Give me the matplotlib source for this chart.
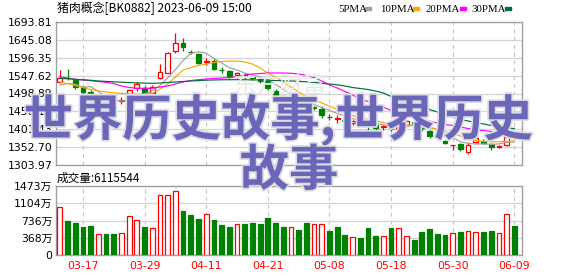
import matplotlib
matplotlib.use("Agg")
import matplotlib.pyplot as plt
import matplotlib.patheffects as pe

# ---- data ----
opens = [1530, 1542, 1536, 1517, 1504, 1473, 1475, 1480, 1479, 1486,
         1513, 1513, 1499, 1540, 1556, 1614, 1636, 1613, 1607, 1585,
         1587, 1564, 1559, 1548, 1552, 1543, 1542, 1533, 1506, 1490,
         1470, 1472, 1462, 1462, 1457, 1436, 1429, 1428, 1419, 1424,
         1420, 1414, 1408, 1408, 1402, 1412, 1420, 1410, 1396, 1386,
         1369, 1358, 1360, 1340, 1366, 1370, 1360, 1352, 1358, 1389]
closes = [1542, 1540, 1516, 1502, 1488, 1476, 1466, 1478, 1482, 1508,
          1524, 1499, 1516, 1558, 1610, 1636, 1625, 1611, 1583, 1588,
          1567, 1562, 1545, 1554, 1545, 1541, 1534, 1513, 1486, 1478,
          1476, 1469, 1460, 1460, 1439, 1434, 1431, 1424, 1423, 1420,
          1412, 1405, 1410, 1403, 1408, 1424, 1414, 1404, 1383, 1383,
          1365, 1359, 1348, 1358, 1378, 1364, 1352, 1355, 1379, 1384]
highs = [1563, 1566, 1538, 1519, 1508, 1478, 1479, 1484, 1488, 1510,
         1531, 1519, 1522, 1578, 1612, 1663, 1650, 1617, 1609, 1595,
         1593, 1571, 1563, 1557, 1555, 1547, 1547, 1538, 1511, 1495,
         1480, 1475, 1466, 1466, 1465, 1443, 1440, 1433, 1428, 1427,
         1422, 1418, 1414, 1410, 1414, 1428, 1424, 1414, 1400, 1390,
         1372, 1359.5, 1363, 1366, 1382, 1375, 1364, 1358, 1404, 1391]
lows = [1528, 1536, 1511, 1498, 1481, 1468, 1461, 1474, 1471, 1484,
        1505, 1495, 1495, 1539, 1554, 1610, 1615, 1607, 1578, 1576,
        1563, 1554, 1541, 1540, 1536, 1536, 1527, 1508, 1481, 1470,
        1464, 1462, 1455, 1455, 1432, 1427, 1418, 1418, 1414, 1415,
        1393, 1400, 1400, 1396, 1398, 1408, 1408, 1398, 1378, 1375,
        1360, 1345, 1343, 1334, 1362, 1360, 1346, 1350, 1355, 1382]

ma5 = [1522, 1526, 1524, 1516, 1517.6, 1504.4, 1489.6, 1482, 1478, 1482,
       1491.6, 1498.2, 1505.8, 1521, 1541.4, 1563.8, 1589, 1608, 1613, 1608.6,
       1594.8, 1582.2, 1569, 1563.2, 1554.6, 1549.4, 1543.8, 1537.4, 1523.8, 1510.4,
       1497.4, 1484.4, 1473.8, 1468.6, 1460.8, 1452.4, 1444.8, 1437.6, 1430.2, 1426.4,
       1422, 1416.8, 1414, 1410, 1407.6, 1410, 1411.8, 1410.6, 1406.6, 1401.6,
       1389.8, 1378.8, 1367.6, 1362.6, 1361.6, 1361.4, 1360, 1361.4, 1365.6, 1366.8]
ma10 = [1530.3, 1526.2, 1520.7, 1515.3, 1509.8, 1505.7, 1503.0, 1500.8, 1499.4, 1498.1,
        1497.5, 1497.0, 1498.9, 1511.2, 1524.8, 1543.9, 1563.0, 1569.8, 1575.2, 1579.3,
        1583.4, 1586.1, 1587.5, 1587.5, 1584.8, 1579.3, 1568.4, 1554.8, 1543.9, 1530.3,
        1516.6, 1503.0, 1490.7, 1482.5, 1473.0, 1464.8, 1455.3, 1447.1, 1438.9, 1433.5,
        1428.0, 1423.9, 1419.8, 1416.6, 1414.4, 1413.0, 1412.2, 1410.3, 1406.2, 1400.8,
        1395.3, 1389.9, 1383.0, 1376.2, 1370.8, 1368.1, 1367.2, 1367.5, 1368.6, 1369.4]
ma20 = [1544.7, 1541.2, 1537.6, 1535.7, 1533.8, 1531.6, 1529.4, 1526.2, 1519.3, 1515.3,
        1513.1, 1513.1, 1513.1, 1516.6, 1519.3, 1524.8, 1530.3, 1534.3, 1536.5, 1538.4,
        1539.8, 1541.2, 1542.5, 1545.2, 1549.3, 1552.1, 1553.4, 1554.8, 1554.8, 1554.8,
        1554.0, 1552.1, 1548.0, 1542.5, 1533.0, 1522.1, 1513.9, 1504.4, 1494.8, 1483.9,
        1477.1, 1470.3, 1462.1, 1452.6, 1445.7, 1441.7, 1437.6, 1430.8, 1423.9, 1418.5,
        1414.4, 1411.7, 1407.6, 1403.5, 1400.2, 1398.0, 1395.3, 1392.6, 1391.2, 1390.4]
ma30 = [1540.3, 1539.0, 1537.6, 1536.3, 1534.9, 1533.0, 1531.9, 1530.8, 1529.7, 1528.6,
        1527.8, 1527.3, 1526.7, 1527.5, 1528.9, 1530.3, 1531.6, 1533.0, 1534.1, 1535.2,
        1535.7, 1536.3, 1536.5, 1536.5, 1536.3, 1536.0, 1535.7, 1535.2, 1534.3, 1533.5,
        1533.0, 1532.2, 1530.8, 1529.2, 1527.0, 1524.8, 1522.6, 1519.3, 1515.3, 1512.5,
        1509.8, 1505.7, 1500.3, 1490.7, 1483.9, 1477.1, 1470.3, 1462.1, 1455.3, 1448.5,
        1441.7, 1434.8, 1428.0, 1423.9, 1419.8, 1415.8, 1411.7, 1407.6, 1404.9, 1403.5]

# volume in 万 (10k)
volumes = [1018, 726, 683, 598, 619, 441, 448, 448, 462, 825,
           740, 598, 569, 1274, 1274, 1359, 939, 854, 768, 868,
           747, 640, 598, 654, 662, 683, 662, 790, 683, 598,
           591, 534, 683, 654, 654, 512, 598, 427, 377, 363,
           576, 406, 406, 576, 576, 398, 320, 491, 555, 448,
           427, 462, 491, 512, 484, 491, 512, 462, 868, 619]
volume_up = "RGGGGRGGRRRGRRRRGGGRGGGRGGGGGGRGGRRGGGRGGGRGRRGGGGGRGRRGGRRG"

price_ticks = [1303.97, 1352.70, 1401.43, 1450.16, 1498.89,
               1547.62, 1596.35, 1645.08, 1693.81]
volume_ticks = [0, 368, 736, 1104, 1473]
date_index = [3, 11, 19, 27, 35, 43, 51, 59]
date_labels = ["03-17", "03-29", "04-11", "04-21",
               "05-08", "05-18", "05-30", "06-09"]

title = "猪肉概念[BK0882] 2023-06-09 15:00"
volume_title = "成交量:6115544"
overlay_line1 = "世界历史故事,世界历史"
overlay_line2 = "故事"

UP = "#ff0000"
DOWN = "#008000"
GRID = "#d4d4d4"
FRAME = "#a0a0a0"
MA_COLORS = ["#a0a0a0", "#ffa500", "#ff00ff", "#006e35"]
MA_NAMES = ["5PMA", "10PMA", "20PMA", "30PMA"]

W, H = 578, 276
CJK = ["Noto Sans CJK SC", "DejaVu Sans"]
NUM = ["DejaVu Sans", "Noto Sans CJK SC"]


def box(x0, y0, x1, y1):
    return [x0 / W, 1 - y1 / H, (x1 - x0) / W, (y1 - y0) / H]


def style_axes(ax):
    for side in ax.spines.values():
        side.set_color(FRAME)
        side.set_linewidth(1.0)
    ax.set_xlim(-0.5, 60.0)
    ax.tick_params(length=0, pad=2.5, labelsize=7.8)
    ax.grid(axis="y", color=GRID, lw=0.9, ls="-")
    for i in date_index:
        ax.axvline(i, color="#c4c4c4", lw=0.8, ls=(0, (3.5, 3.5)), zorder=0.5)
    ax.set_axisbelow(True)
    for lab in ax.get_yticklabels():
        lab.set_family(NUM)


def draw_price(ax):
    n = len(opens)
    x = list(range(n))
    for i in x:
        o, c = opens[i], closes[i]
        col = UP if c >= o else DOWN
        ax.vlines(i, lows[i], highs[i], color=col, lw=0.9, zorder=2)
        bottom = min(o, c)
        height = max(abs(c - o), 0.6)
        face = "white" if c >= o else DOWN
        ax.bar(i, height, bottom=bottom, width=0.62, color=face,
               edgecolor=col, linewidth=0.9, zorder=3)

    for vals, col in zip([ma5, ma10, ma20, ma30], MA_COLORS):
        ax.plot(x, vals, color=col, lw=0.85, zorder=4)

    ax.set_ylim(price_ticks[0], price_ticks[-1])
    ax.set_yticks(price_ticks)
    ax.set_yticklabels([f"{v:.2f}" for v in price_ticks])
    ax.set_xticks([])
    style_axes(ax)


def draw_volume(ax):
    x = list(range(len(volumes)))
    for i in x:
        up = volume_up[i] == "R"
        ax.bar(i, volumes[i], width=0.62,
               color="white" if up else DOWN,
               edgecolor=UP if up else DOWN, linewidth=0.9, zorder=3)
    ax.set_ylim(0, volume_ticks[-1])
    ax.set_yticks(volume_ticks)
    ax.set_yticklabels(["0"] + [f"{v}万" for v in volume_ticks[1:]])
    ax.set_xticks(date_index)
    ax.set_xticklabels(date_labels, color=UP, fontsize=7.2)
    style_axes(ax)
    ax.tick_params(axis="x", pad=4)


def draw_texts(fig):
    fig.text(57 / W, 1 - 8 / H, title, family=CJK, fontsize=8.6,
             va="center", ha="left")
    fig.text(57 / W, 1 - 178 / H, volume_title, family=CJK, fontsize=8.4,
             va="center", ha="left")

    # MA legend at top right
    text_x = [338, 380, 426, 471]
    mark_x = [365, 413, 460, 505]
    for name, col, tx, mx in zip(MA_NAMES, MA_COLORS, text_x, mark_x):
        fig.text(tx / W, 1 - 9 / H, name, family="Liberation Serif",
                 fontsize=7.8, va="center", ha="left")
        fig.patches.append(plt.Rectangle(
            (mx / W, 1 - 10 / H), 6 / W, 3 / H, color=col,
            transform=fig.transFigure, figure=fig))

    # faint watermark behind the candles
    fig.text(280 / W, 1 - 86 / H, "东方财富", family=CJK, fontsize=17,
             color="#e9e9e9", ha="center", va="center", zorder=0.6)

    halo = [pe.withStroke(linewidth=2.5, foreground="#dcdce4")]
    fig.text(278 / W, 1 - 120 / H, overlay_line1, family=CJK,
             fontsize=35.5, weight="bold", color="#6a67b8",
             ha="center", va="center", path_effects=halo, zorder=10)
    fig.text(289 / W, 1 - 171 / H, overlay_line2, family=CJK,
             fontsize=35.5, weight="bold", color="#6a67b8",
             ha="center", va="center", path_effects=halo, zorder=10)


def main():
    fig = plt.figure(figsize=(W / 100, H / 100), dpi=100)
    ax_price = fig.add_axes(box(56, 22, 522, 165))
    ax_vol = fig.add_axes(box(56, 186, 522, 255))

    draw_price(ax_price)
    draw_volume(ax_vol)
    draw_texts(fig)

    fig.savefig("out.png", dpi=100)
    plt.close(fig)


if __name__ == "__main__":
    main()
